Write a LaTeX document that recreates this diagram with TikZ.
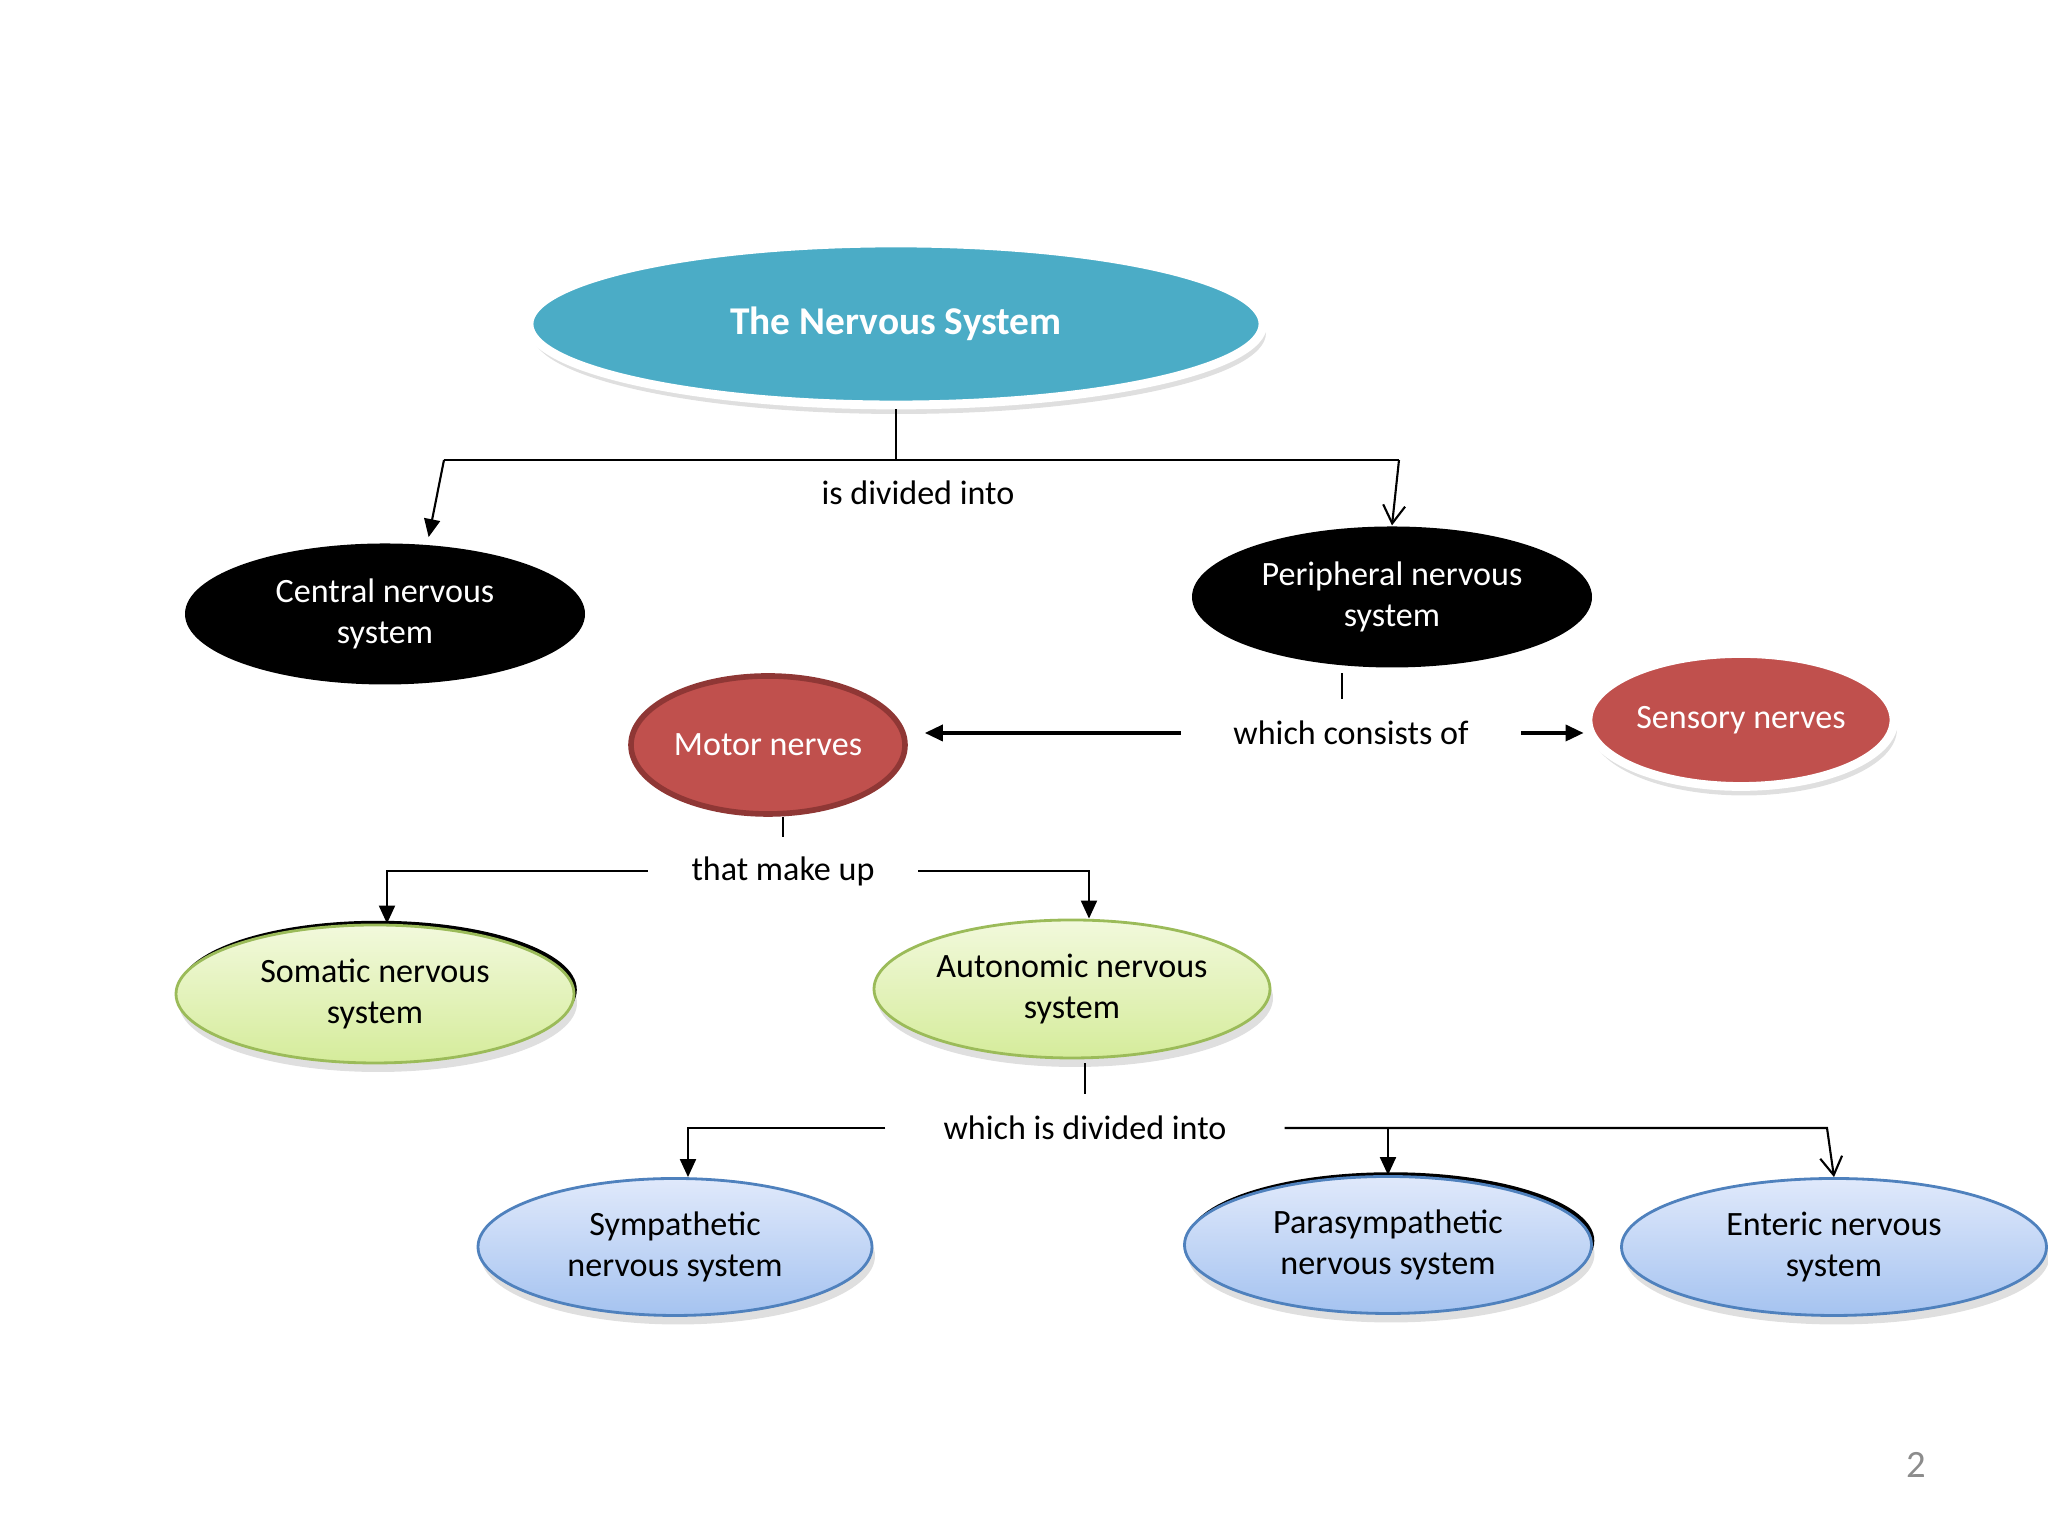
\documentclass[tikz,border=0pt]{standalone}
\usepackage{fontspec}
\setmainfont{Carlito}
\usepackage{xcolor}
\usepackage{tikz}
\usetikzlibrary{shapes,arrows.meta,shadows}
\usetikzlibrary{calc}
\definecolor{nsblue}{RGB}{75,172,198}
\definecolor{nsred}{RGB}{192,80,77}
\definecolor{nsdarkred}{RGB}{143,55,53}
\definecolor{nsgreentop}{RGB}{242,249,220}
\definecolor{nsgreenbot}{RGB}{213,236,155}
\definecolor{nsgreenline}{RGB}{155,187,89}
\definecolor{nsbluetop}{RGB}{224,233,251}
\definecolor{nsbluebot}{RGB}{165,195,240}
\definecolor{nsblueline}{RGB}{79,129,189}
\tikzset{
    bubble/.style={ellipse, inner sep=0pt, align=center, font=\fontsize{9.7}{11.9}\selectfont},
    softshadow/.style={drop shadow={opacity=0.25, shadow xshift=0.03cm, shadow yshift=-0.09cm}},
    rim/.style={general shadow={fill=black, shadow xshift=0.8pt, shadow yshift=1.2pt}},
    solidhead/.tip={Triangle[length=1.8mm,width=1.6mm]},
    openhead/.tip={Straight Barb[length=1.8mm,width=2.2mm]}}
\tikzset{
    topbubble/.style={bubble, fill=nsblue, draw=white, line width=2.5pt, text=white, minimum width=7.34cm, minimum height=1.62cm, font=\fontsize{11.2}{13}\selectfont\bfseries, softshadow},
    darkbubble/.style={bubble, fill=black, text=white, minimum width=4cm, minimum height=1.41cm},
    redbubble/.style={bubble, fill=nsred, text=white},
    greenbubble/.style={bubble, top color=nsgreentop, bottom color=nsgreenbot, draw=nsgreenline, thick, minimum height=1.38cm, softshadow},
    bluebubble/.style={bubble, top color=nsbluetop, bottom color=nsbluebot, draw=nsblueline, thick, minimum height=1.37cm, softshadow},
    linklabel/.style={inner xsep=0pt, inner ysep=0pt, minimum height=0.66cm, font=\fontsize{9.7}{11.9}\selectfont}}
\begin{document}
\begin{tikzpicture}[line width=0.6pt]
    \useasboundingbox (0,0) rectangle (20.48,15.36);

    \node (ns)[topbubble] at (8.96,12.12) {The Nervous System};
    \node (cns)[darkbubble] at (3.85,9.22) {Central nervous\\system};
    \node (pns)[darkbubble] at (13.92,9.39) {Peripheral nervous\\system};
    \node (mot)[redbubble, draw=nsdarkred, line width=1.6pt, minimum width=2.74cm, minimum height=1.38cm] at (7.68,7.91) {Motor nerves};
    \node (sns)[redbubble, draw=white, line width=2.5pt, minimum width=3.06cm, minimum height=1.33cm, softshadow] at (17.41,8.16) {Sensory nerves};
    \node (som)[greenbubble, rim, minimum width=3.98cm] at (3.75,5.42) {Somatic nervous\\system};
    \node (aut)[greenbubble, minimum width=3.96cm] at (10.72,5.47) {Autonomic nervous\\system};
    \node (sym)[bluebubble, minimum width=3.94cm] at (6.75,2.89) {Sympathetic\\nervous system};
    \node (par)[bluebubble, rim, minimum width=4.07cm] at (13.88,2.91) {Parasympathetic\\nervous system};
    \node (ent)[bluebubble, minimum width=4.25cm] at (18.34,2.89) {Enteric nervous\\system};

    \node (divA)[linklabel] at (9.18,10.43) {is divided into};
    \node (consists)[linklabel, minimum width=3.38cm] at (13.51,8.03) {which consists of};
    \node (makeup)[linklabel, minimum width=2.68cm] at (7.83,6.65) {that make up};
    \node (divB)[linklabel, minimum width=3.97cm] at (10.85,4.08) {which is divided into};

    \node (pnum)[text=black!45, font=\fontsize{11}{13}\selectfont] at (19.16,0.71) {2};

    \coordinate (splitL) at (4.44,10.76);
    \coordinate (splitR) at (13.99,10.76);

    \draw[] (ns.south) -- (splitL -| ns.south);
    \draw[] (splitL) -- (splitR);
    \draw[-solidhead] (splitL) -- ([yshift=2pt]cns.58);
    \draw[-openhead] (splitR) -- (pns.north);

    \draw[line width=0.4pt] ([xshift=-0.09cm]consists.north) -- ++(0,0.26);
    \draw[line width=1pt, -solidhead, shorten >=0.17cm] (consists.west) -- (consists.west -| mot.east);
    \draw[line width=1pt, -solidhead] (consists.east) -- (consists.east -| sns.west);

    \draw[line width=0.4pt] (makeup.north) -- (mot.south -| makeup.north);
    \draw[-solidhead] (makeup.west) -| ([xshift=0.12cm]som.north);
    \draw[-solidhead] (makeup.east) -| ([xshift=0.17cm]aut.north);

    \draw[line width=0.4pt] (divB.north) -- ([yshift=-0.04cm]aut.south -| divB.north);
    \draw[-solidhead] (divB.west) -| ([xshift=0.13cm]sym.north);
    \draw[-openhead] (divB.east) -- ([xshift=-0.07cm]divB.east -| ent.north) -- (ent.north);
    \draw[-solidhead] (divB.east -| par.north) -- (par.north);
\end{tikzpicture}
\end{document}
